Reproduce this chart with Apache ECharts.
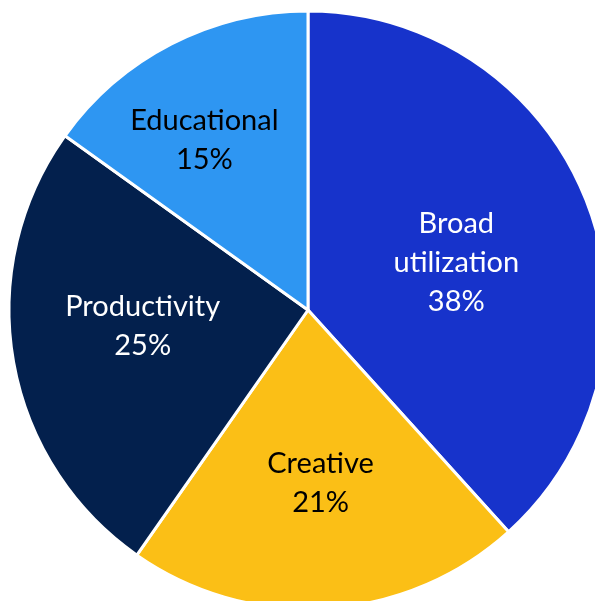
<!DOCTYPE html>
<html>
<head>
<meta charset="utf-8">
<style>html,body{margin:0;padding:0;background:#fff;}#c{width:595px;height:601px;}</style>
<script src="https://cdn.jsdelivr.net/npm/echarts@6/dist/echarts.min.js"></script>
</head>
<body>
<div id="c"></div>
<script>
const categories = ['Broad\nutilization', 'Creative', 'Productivity', 'Educational'];
const values = [38.3, 21.4, 25.2, 15.1];
const colors = ['#1733CB', '#FBBF16', '#03204D', '#2E96F2'];
const textColors = ['#ffffff', '#000000', '#ffffff', '#000000'];
const labelOffsets = [[6, 7], [3, 21], [-15, -10], [-34, -34]];

const chart = echarts.init(document.getElementById('c'), null, {renderer: 'canvas'});
chart.setOption({
  animation: false,
  series: [{
    type: 'pie',
    center: [308, 310],
    radius: [0, 299],
    startAngle: 90,
    clockwise: true,
    avoidLabelOverlap: false,
    itemStyle: {borderColor: '#ffffff', borderWidth: 3},
    label: {
      show: true,
      position: 'inside',
      fontFamily: 'Lato',
      fontSize: 29,
      lineHeight: 39,
      align: 'center',
      formatter: p => p.name + '\n' + Math.round(p.percent) + '%'
    },
    labelLine: {show: false},
    emphasis: {disabled: true},
    data: categories.map((n, i) => ({
      name: n,
      value: values[i],
      itemStyle: {color: colors[i]},
      label: {color: textColors[i], offset: labelOffsets[i]}
    }))
  }]
});
</script>
</body>
</html>
